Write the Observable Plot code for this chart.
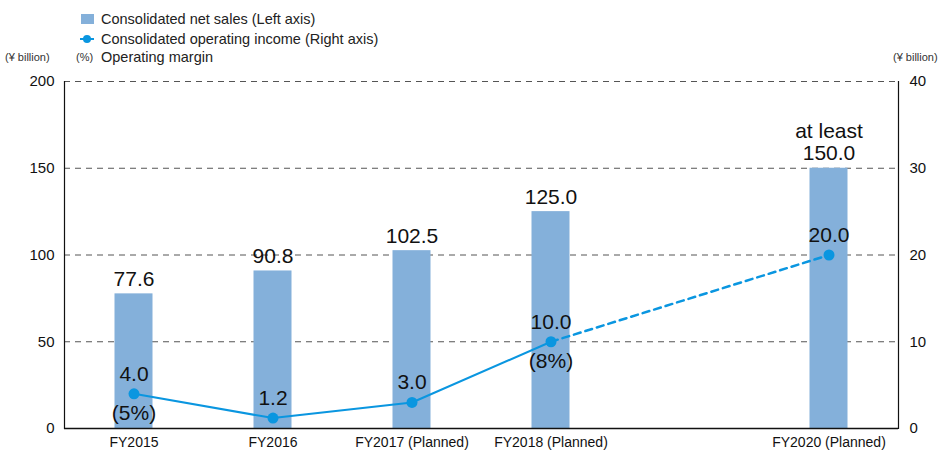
<!DOCTYPE html>
<html>
<head>
<meta charset="utf-8">
<script src="https://cdn.jsdelivr.net/npm/d3@7"></script>
<script src="https://cdn.jsdelivr.net/npm/@observablehq/plot@0.6"></script>
<style>
  body { margin: 0; background: #fff; font-family: "Liberation Sans", Arial, sans-serif; }
  #wrap { position: relative; width: 944px; }
  #legend { position: relative; width: 944px; height: 66px; color: #222; }
  #legend .row { position: absolute; left: 101px; font-size: 14.5px; line-height: 16px; white-space: nowrap; }
  #legend .unit { position: absolute; font-size: 11px; line-height: 12px; white-space: nowrap; color: #333; }
  #legend .sw { position: absolute; }
</style>
</head>
<body>
<div id="wrap">
  <div id="legend">
    <div class="sw" style="left:81px; top:14px; width:13px; height:10px; background:#84b0da;"></div>
    <div class="row" style="top:11px;">Consolidated net sales (Left axis)</div>
    <svg class="sw" style="left:79px; top:33px;" width="16" height="12"><line x1="1" y1="6" x2="15" y2="6" stroke="#0a96e0" stroke-width="2"/><circle cx="8" cy="6" r="4" fill="#0a96e0"/></svg>
    <div class="row" style="top:31px;">Consolidated operating income (Right axis)</div>
    <div class="unit" style="left:76px; top:51px;">(%)</div>
    <div class="row" style="top:49px;">Operating margin</div>
    <div class="unit" style="left:5px; top:51px;">(¥ billion)</div>
    <div class="unit" style="left:893px; top:51px;">(¥ billion)</div>
  </div>
  <div id="chart"></div>
</div>
<script>
const categories = ["FY2015", "FY2016", "FY2017 (Planned)", "FY2018 (Planned)", "FY2020 (Planned)"];
const xSlots = ["FY2015", "FY2016", "FY2017 (Planned)", "FY2018 (Planned)", "FY2019", "FY2020 (Planned)"];
const netSales = [77.6, 90.8, 102.5, 125.0, 150.0];
const salesPrefix = ["", "", "", "", "at least"];
const opIncome = [4.0, 1.2, 3.0, 10.0, 20.0];
const marginLabels = ["(5%)", "", "", "(8%)", ""];
const leftTicks = [0, 50, 100, 150, 200];
const rightTicks = [0, 10, 20, 30, 40];
const leftMax = 200, rightMax = 40;
const k = leftMax / rightMax;

const data = categories.map((c, i) => ({
  cat: c,
  sales: netSales[i],
  salesLabel: (salesPrefix[i] ? salesPrefix[i] + "\n" : "") + netSales[i].toFixed(1),
  inc: opIncome[i],
  incY: opIncome[i] * k,
  incLabel: opIncome[i].toFixed(1),
  margin: marginLabels[i]
}));
const solid = data.slice(0, 4);
const dashed = data.slice(3, 5);

const blue = "#0a96e0";
const font = "Liberation Sans, Arial, sans-serif";

const chart = Plot.plot({
  width: 944,
  height: 386,
  marginTop: 15,
  marginBottom: 24,
  marginLeft: 64,
  marginRight: 46,
  style: { fontFamily: font, fontSize: "15px", color: "#111", background: "#fff" },
  x: { domain: xSlots, padding: 0, axis: null },
  y: { domain: [0, leftMax], axis: null },
  marks: [
    Plot.ruleY(leftTicks.filter(d => d > 0), { stroke: "#555", strokeDasharray: "6,5", strokeWidth: 1 }),
    Plot.barY(data, { x: "cat", y: "sales", fill: "#84b0da", insetLeft: 50.5, insetRight: 50.5 }),
    Plot.frame({ anchor: "left", stroke: "#111", strokeWidth: 1.2 }),
    Plot.frame({ anchor: "right", stroke: "#111", strokeWidth: 1.2 }),
    Plot.ruleY([0], { stroke: "#111", strokeWidth: 1.5 }),
    Plot.axisY(leftTicks, { anchor: "left", tickSize: 0, tickPadding: 10, fontSize: 15, label: null }),
    Plot.axisY(rightTicks, { y: d => d * k, anchor: "right", tickSize: 0, tickPadding: 11, fontSize: 15, label: null, tickFormat: d => String(d), textAnchor: "start" }),
    Plot.axisX({ ticks: categories, tickSize: 0, tickPadding: 9, fontSize: 14, label: null }),
    Plot.line(solid, { x: "cat", y: "incY", stroke: blue, strokeWidth: 2 }),
    Plot.line(dashed, { x: "cat", y: "incY", stroke: blue, strokeWidth: 2.5, strokeDasharray: "7,5" }),
    Plot.dot(data, { x: "cat", y: "incY", r: 5.5, fill: blue }),
    Plot.text(data, { x: "cat", y: "sales", text: "salesLabel", lineAnchor: "bottom", dy: -8, fontSize: 21, fill: "#111", lineHeight: 1.05 }),
    Plot.text(data, { x: "cat", y: "incY", text: "incLabel", lineAnchor: "bottom", dy: -13, fontSize: 21, fill: "#111" }),
    Plot.text(data.filter(d => d.margin), { x: "cat", y: "incY", text: "margin", lineAnchor: "top", dy: 11, fontSize: 21, fill: "#111" })
  ]
});
document.getElementById("chart").appendChild(chart);
</script>
</body>
</html>
